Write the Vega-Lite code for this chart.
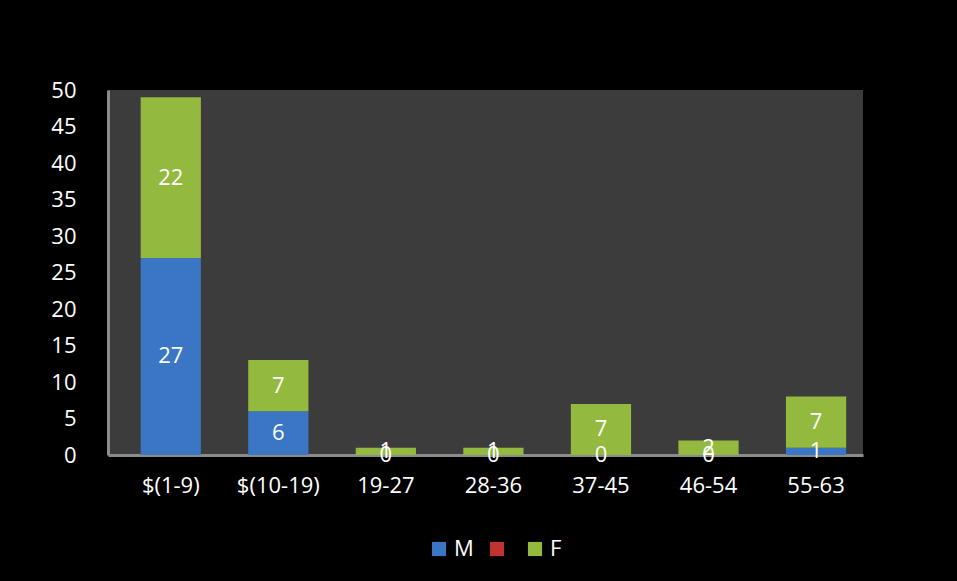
{
  "$schema": "https://vega.github.io/schema/vega-lite/v6.json",
  "autosize": {"type": "none"},
  "width": 755,
  "height": 365,
  "padding": {"left": 108, "top": 90, "right": 94, "bottom": 126},
  "background": "#000000",
  "config": {
    "font": "Open Sans",
    "view": {"fill": "#3c3c3c", "stroke": null},
    "axis": {"labelColor": "#ffffff", "labelFontSize": 22, "labelFont": "Open Sans", "grid": false, "ticks": false}
  },
  "data": {
    "values": [
      {"range": "$(1-9)", "sex": "M", "count": 27},
      {"range": "$(1-9)", "sex": "F", "count": 22},
      {"range": "$(10-19)", "sex": "M", "count": 6},
      {"range": "$(10-19)", "sex": "F", "count": 7},
      {"range": "19-27", "sex": "M", "count": 0},
      {"range": "19-27", "sex": "F", "count": 1},
      {"range": "28-36", "sex": "M", "count": 0},
      {"range": "28-36", "sex": "F", "count": 1},
      {"range": "37-45", "sex": "M", "count": 0},
      {"range": "37-45", "sex": "F", "count": 7},
      {"range": "46-54", "sex": "M", "count": 0},
      {"range": "46-54", "sex": "F", "count": 2},
      {"range": "55-63", "sex": "M", "count": 1},
      {"range": "55-63", "sex": "F", "count": 7}
    ]
  },
  "encoding": {
    "x": {
      "field": "range", "type": "nominal", "sort": null, "title": null,
      "scale": {"paddingInner": 0.44, "paddingOuter": 0.23, "align": 0.66},
      "axis": {"labelAngle": 0, "labelPadding": 20, "domainColor": "#8c8c8c", "domainWidth": 3}
    },
    "y": {
      "field": "count", "type": "quantitative", "stack": "zero", "title": null,
      "scale": {"domain": [0, 50]},
      "axis": {"values": [0, 5, 10, 15, 20, 25, 30, 35, 40, 45, 50], "labelPadding": 32, "domainColor": "#8c8c8c", "domainWidth": 3}
    },
    "order": {"field": "sex", "sort": "descending"}
  },
  "layer": [
    {
      "mark": {"type": "bar"},
      "encoding": {
        "color": {
          "field": "sex", "type": "nominal",
          "scale": {"domain": ["M", " ", "F"], "range": ["#3a76c4", "#c0332f", "#93ba3e"]},
          "legend": {
            "title": null, "orient": "none", "direction": "horizontal",
            "legendX": 320, "legendY": 448,
            "symbolType": "square", "symbolSize": 200, "symbolStrokeWidth": 0,
            "labelColor": "#ffffff", "labelFontSize": 22, "labelFont": "Open Sans",
            "columnPadding": 12, "labelOffset": 4
          }
        }
      }
    },
    {
      "mark": {"type": "text", "color": "#ffffff", "fontSize": 22, "font": "Open Sans"},
      "encoding": {
        "y": {"field": "count", "type": "quantitative", "stack": "zero", "bandPosition": 0.5},
        "text": {"field": "count", "type": "quantitative"}
      }
    }
  ]
}
